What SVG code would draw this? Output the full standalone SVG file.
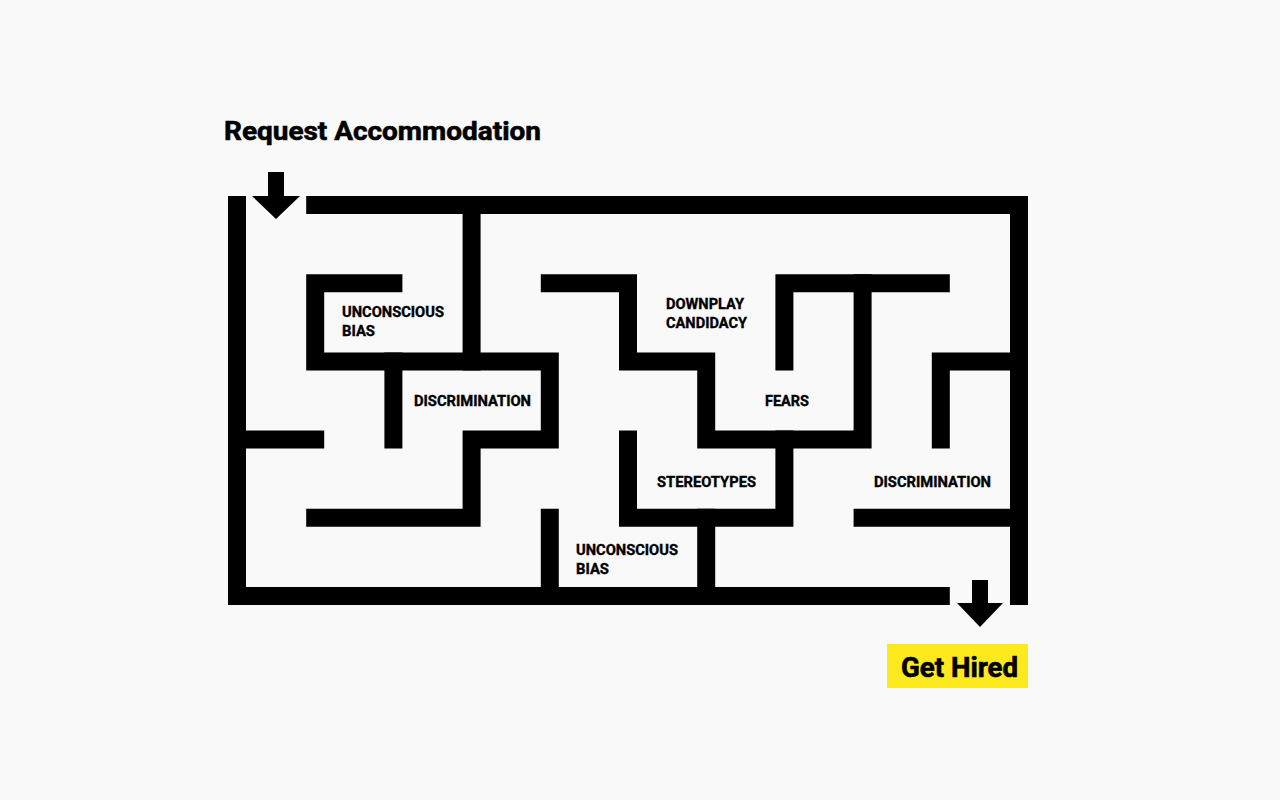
<svg xmlns="http://www.w3.org/2000/svg" width="1280" height="800" viewBox="0 0 1280 800">
<style>
.w{stroke:#000;stroke-width:18;stroke-linecap:square;stroke-linejoin:miter;fill:none}
.lbl{font-family:Roboto,"Liberation Sans",sans-serif;font-weight:700;font-size:14px;fill:#000;stroke:#000;stroke-width:0.35}
.big{font-family:Roboto,"Liberation Sans",sans-serif;font-weight:700;fill:#000;stroke:#000;stroke-width:0.6}
</style>
<rect width="1280" height="800" fill="#F9F9F9"/>
<g id="title"><text class="big" x="224" y="140" font-size="26" textLength="317" lengthAdjust="spacingAndGlyphs">Request Accommodation</text></g>
<g id="connectors">
<g id="maze-walls">
<path class="w" d="M315.2,205H1019V596M237,205V596H940.8"/>
<path class="w" d="M393.4,283.2H315.2V361.4H549.8V439.6H471.6V517.8H315.2"/>
<path class="w" d="M471.6,205V361.4"/>
<path class="w" d="M393.4,361.4V439.6"/>
<path class="w" d="M237,439.6H315.2"/>
<path class="w" d="M549.8,517.8V596"/>
<path class="w" d="M549.8,283.2H628V361.4H706.2V439.6H862.6V283.2"/>
<path class="w" d="M784.4,361.4V283.2H940.8"/>
<path class="w" d="M940.8,439.6V361.4H1019"/>
<path class="w" d="M628,439.6V517.8H784.4V439.6"/>
<path class="w" d="M706.2,517.8V596"/>
<path class="w" d="M862.6,517.8H1019"/>
</g>
<path id="arrow-in" d="M268,172H284V196H300L276,219L252,196H268Z" fill="#000"/>
<path id="arrow-out" d="M972,580H988V603H1003L980,627L957,603H972Z" fill="#000"/>
</g>
<g id="n-unconscious-bias-1"><text class="lbl" x="342" y="317" textLength="102" lengthAdjust="spacingAndGlyphs">UNCONSCIOUS</text><text class="lbl" x="342" y="336" textLength="33" lengthAdjust="spacingAndGlyphs">BIAS</text></g>
<g id="n-discrimination-1"><text class="lbl" x="414" y="406" textLength="117" lengthAdjust="spacingAndGlyphs">DISCRIMINATION</text></g>
<g id="n-downplay"><text class="lbl" x="666" y="309" textLength="78" lengthAdjust="spacingAndGlyphs">DOWNPLAY</text><text class="lbl" x="666" y="328" textLength="81" lengthAdjust="spacingAndGlyphs">CANDIDACY</text></g>
<g id="n-fears"><text class="lbl" x="765" y="406" textLength="44" lengthAdjust="spacingAndGlyphs">FEARS</text></g>
<g id="n-stereotypes"><text class="lbl" x="657" y="487" textLength="99" lengthAdjust="spacingAndGlyphs">STEREOTYPES</text></g>
<g id="n-unconscious-bias-2"><text class="lbl" x="576" y="555" textLength="102" lengthAdjust="spacingAndGlyphs">UNCONSCIOUS</text><text class="lbl" x="576" y="574" textLength="33" lengthAdjust="spacingAndGlyphs">BIAS</text></g>
<g id="n-discrimination-2"><text class="lbl" x="874" y="487" textLength="117" lengthAdjust="spacingAndGlyphs">DISCRIMINATION</text></g>
<g id="n-get-hired"><rect x="887" y="644" width="141" height="44" fill="#FCEA1E"/><text class="big" x="901" y="677" font-size="27" textLength="117" lengthAdjust="spacingAndGlyphs">Get Hired</text></g>
</svg>
